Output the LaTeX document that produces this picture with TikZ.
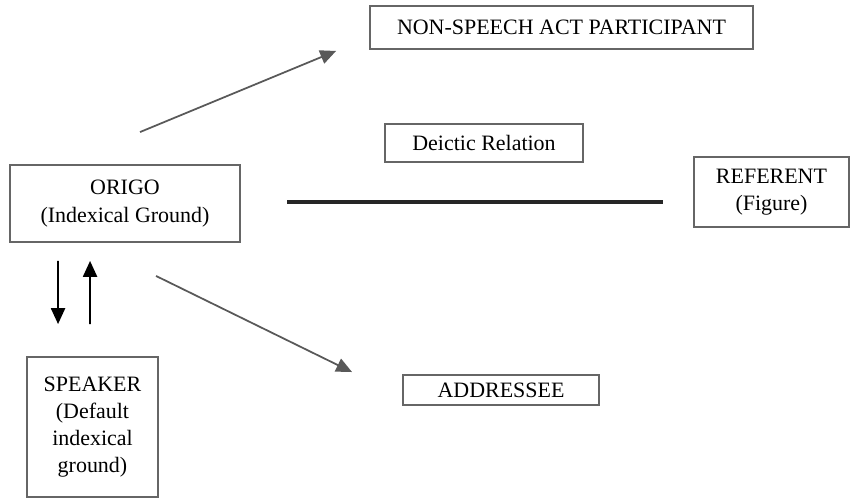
\documentclass[tikz,border=0pt]{standalone}
\usepackage{tikz}
\usepackage{fontspec}
\setmainfont{Liberation Serif}
\usetikzlibrary{positioning,arrows.meta}
\usetikzlibrary{calc}

\begin{document}
\begin{tikzpicture}[x=0.02cm,y=-0.02cm,
                every node/.style={font=\fontsize{12.5}{15.5}\selectfont},
                box/.style={rectangle, draw=black!60, line width=1.1pt, align=center, inner sep=0pt},
                link/.style={draw=black!65, line width=1pt, -{Triangle[length=9pt,width=8pt]}},
                turn/.style={draw=black, line width=1pt, -{Triangle[length=9pt,width=8pt]}}]
            \useasboundingbox (0,0) rectangle (850,501);

            \node[box, minimum width=7.66cm, minimum height=0.86cm] (nonspeech) at (561.5,27.5) {NON-SPEECH ACT PARTICIPANT};
            \node[box, minimum width=3.96cm, minimum height=0.76cm] (deictic) at (484,143) {Deictic Relation};
            \node[box, minimum width=3.1cm, minimum height=1.4cm] (referent) at (771.5,192) {REFERENT\\(Figure)};
            \node[box, minimum width=4.6cm, minimum height=1.54cm] (origo) at (125,203.5) {ORIGO\\(Indexical Ground)};
            \node[box, minimum width=2.62cm, minimum height=2.8cm] (speaker) at (92.5,427) {SPEAKER\\(Default\\indexical\\ground)};
            \node[box, minimum width=3.92cm, minimum height=0.6cm] (addressee) at (501,390) {ADDRESSEE};

            % relation bar
            \coordinate (barL) at (287,202);
            \coordinate (barR) at (663,202);
            \draw[line width=2.8pt, black!85] (barL) -- (barR);

            % from the origo
            \coordinate (o1) at ($(origo.north west)+(131,-32)$);
            \coordinate (n1) at ($(nonspeech.south west)+(-33,1)$);
            \draw[link] (o1) -- (n1);
            \coordinate (o2) at ($(origo.south west)+(147,33)$);
            \coordinate (a1) at ($(addressee.north west)+(-50,-2)$);
            \draw[link] (o2) -- (a1);

            % origo and speaker
            \coordinate (d1) at ($(origo.south west)+(49,18)$);
            \coordinate (d2) at ($(speaker.north west)+(32,-32)$);
            \draw[turn] (d1) -- (d2);
            \coordinate (u1) at ($(speaker.north west)+(64,-32)$);
            \coordinate (u2) at ($(origo.south west)+(81,18)$);
            \draw[turn] (u1) -- (u2);
        \end{tikzpicture}
\end{document}
